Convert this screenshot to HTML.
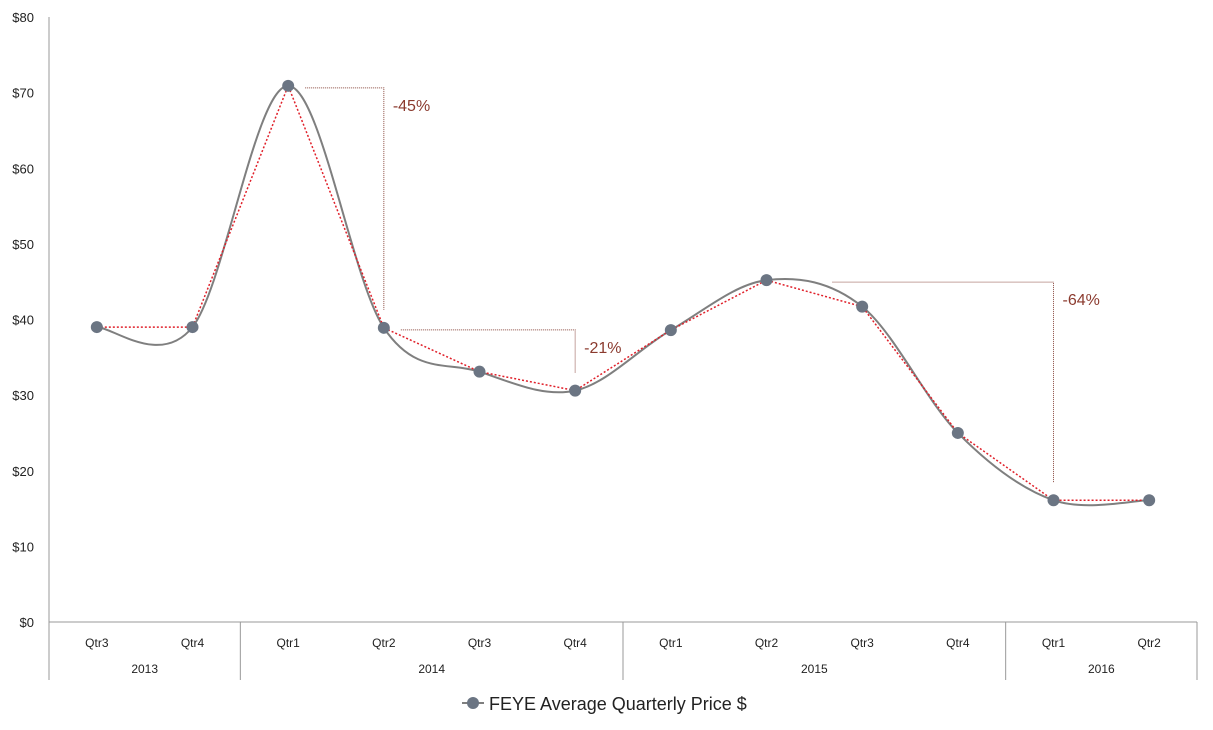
<!DOCTYPE html>
<html><head><meta charset="utf-8"><style>
body{margin:0;background:#fff;}
svg{display:block;font-family:"Liberation Sans",sans-serif;}
</style></head><body>
<svg id="c" width="1213" height="730"></svg>
<script>
const quarters=["Qtr3","Qtr4","Qtr1","Qtr2","Qtr3","Qtr4","Qtr1","Qtr2","Qtr3","Qtr4","Qtr1","Qtr2"];
const prices=[39.0,39.0,70.9,38.9,33.1,30.6,38.6,45.2,41.7,25.0,16.1,16.1];
const years=["2013","2014","2015","2016"];
const yearSpans=[2,4,4,2];
const yTicks=[0,10,20,30,40,50,60,70,80];
const annotations=[{from:2,to:3,label:"-45%"},{from:3,to:5,label:"-21%"},{from:7,to:10,label:"-64%"}];
const bracketGap=[17,17,66];

const NS="http://www.w3.org/2000/svg";
const svg=document.getElementById('c');
const X0=49,X1=1197,Y0=622,Ytop=17,n=quarters.length,bw=(X1-X0)/n;
const xs=i=>X0+bw*(i+0.5);
const ys=v=>Y0-(v/80)*(Y0-Ytop);
function el(t,a,txt){const e=document.createElementNS(NS,t);for(const k in a)e.setAttribute(k,a[k]);if(txt!=null)e.textContent=txt;svg.appendChild(e);return e;}

yTicks.forEach(v=>{
const t=el('text',{x:34,y:ys(v)+5,'text-anchor':'end','font-size':13,fill:'#222'},'$'+v);


});
const ya=el('line',{x1:X0,y1:Ytop,x2:X0,y2:680,stroke:'#999','stroke-width':1});

const xa=el('line',{x1:X0,y1:Y0,x2:X1,y2:Y0,stroke:'#999','stroke-width':1});

quarters.forEach((q,i)=>{
const t=el('text',{x:xs(i),y:647,'text-anchor':'middle','font-size':12,fill:'#222'},q);

});
let idx=0;
years.forEach((y,j)=>{
const a=X0+bw*idx,b=a+bw*yearSpans[j];
const t=el('text',{x:(a+b)/2,y:673,'text-anchor':'middle','font-size':12,fill:'#222'},y);

const d=el('line',{x1:b,y1:Y0,x2:b,y2:680,stroke:'#999'});

idx+=yearSpans[j];
});

const P=prices.map((v,i)=>[xs(i),ys(v)]);
let d='M'+P[0][0]+','+P[0][1];
for(let i=0;i<P.length-1;i++){
const p0=P[Math.max(i-1,0)],p1=P[i],p2=P[i+1],p3=P[Math.min(i+2,P.length-1)],k=6;
d+=` C${p1[0]+(p2[0]-p0[0])/k},${p1[1]+(p2[1]-p0[1])/k} ${p2[0]-(p3[0]-p1[0])/k},${p2[1]-(p3[1]-p1[1])/k} ${p2[0]},${p2[1]}`;
}
const sc=el('path',{d:d,fill:'none',stroke:'#7f7f7f','stroke-width':2});

const tl=el('polyline',{points:P.map(p=>p.join(',')).join(' '),fill:'none',stroke:'#e0202a','stroke-width':1.5,'stroke-dasharray':'2,2'});

P.forEach(p=>{
const c=el('circle',{cx:p[0],cy:p[1],r:6,fill:'#6b7583'});

});

annotations.forEach((a,j)=>{
const xa=xs(a.from)+bracketGap[j],xb=xs(a.to),ya=ys(prices[a.from])+2,yb=ys(prices[a.to])-18;
const pl=el('polyline',{points:`${xa},${ya} ${xb},${ya} ${xb},${yb}`,fill:'none',stroke:'#8b4a40','stroke-width':1,'stroke-dasharray':'1,1'});

const t=el('text',{x:xb+9,y:ya+23,'font-size':16,fill:'#8b3a2e'},a.label);

});

const lg=el('line',{x1:462,y1:703,x2:484,y2:703,stroke:'#7f7f7f','stroke-width':2});

const lc=el('circle',{cx:473,cy:703,r:6,fill:'#6b7583'});

const lt=el('text',{x:489,y:710,'font-size':18,fill:'#222'},'FEYE Average Quarterly Price $');

</script>
</body></html>
